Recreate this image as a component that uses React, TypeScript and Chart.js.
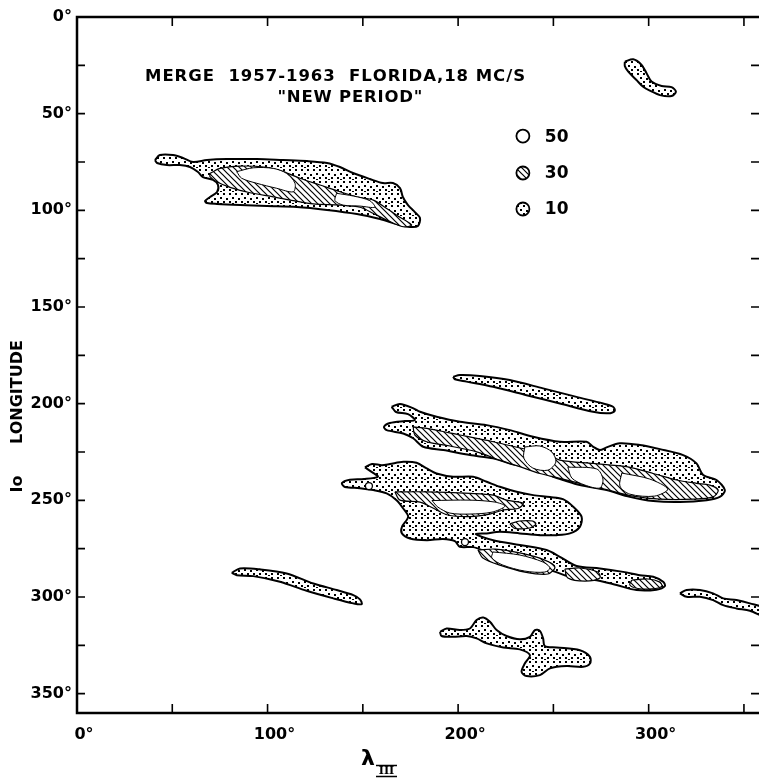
import React, { useEffect, useRef } from 'react';
import { Chart, registerables } from 'chart.js';

Chart.register(...registerables);

type P = [number, number];

// ---------- axis ----------
const X_MIN = 0;
const X_MAX = 360;
const Y_MIN = 0;
const Y_MAX = 360;
const xTickMarks = [50, 100, 150, 200, 250, 300, 350];
const yTickMarks = [25, 50, 75, 100, 125, 150, 175, 200, 225, 250, 275, 300, 325, 350];
const xLabelValues = [0, 100, 200, 300];
const yLabelValues = [0, 50, 100, 150, 200, 250, 300, 350];

// ---------- level 10 contours (stippled) ----------
const region1Outer: P[] = [
  [40.9, 74.0], [43.5, 71.4], [50.4, 71.4], [55.6, 72.9], [60.9, 75.0], [68.2, 74.0], [78.7, 73.5],
  [94.4, 73.5], [108.1, 74.0], [120.7, 74.5], [131.2, 75.5], [138.0, 77.6], [144.8, 80.7],
  [153.7, 83.8], [160.5, 85.9], [165.8, 85.9], [169.5, 88.5], [171.0, 93.1], [173.7, 97.3],
  [177.3, 100.9], [180.0, 104.0], [178.9, 108.1], [174.7, 108.6], [167.9, 107.1], [159.0, 104.5],
  [146.9, 101.9], [131.2, 99.8], [115.4, 98.3], [99.7, 97.8], [85.5, 97.3], [73.5, 96.7],
  [68.2, 96.2], [67.2, 95.2], [69.8, 93.1], [73.5, 90.5], [74.0, 86.9], [71.4, 84.3], [66.1, 82.8],
  [63.5, 80.2], [59.3, 77.6], [54.0, 76.6], [47.2, 76.6], [42.0, 75.5],
];
const region2Outer: P[] = [
  [287.5, 23.1], [291.9, 21.9], [296.3, 24.8], [298.9, 29.1], [301.5, 33.4], [306.8, 35.7],
  [312.0, 36.3], [314.3, 38.6], [312.0, 40.9], [305.9, 40.4], [300.6, 38.1], [297.1, 36.1],
  [293.6, 32.6], [289.3, 28.3], [287.5, 25.4],
];
const region3Outer: P[] = [
  [197.4, 186.1], [200.9, 185.2], [211.4, 185.7], [227.1, 187.8], [244.6, 192.1], [262.1, 196.5],
  [276.1, 199.9], [281.3, 201.6], [282.2, 203.7], [278.7, 205.0], [270.8, 204.2], [253.4, 199.9],
  [235.9, 195.6], [218.4, 191.3], [204.4, 188.6], [198.3, 187.4],
];
const region4Outer: P[] = [
  [165.1, 201.6], [169.5, 200.2], [176.3, 202.3], [180.0, 204.2], [188.7, 206.8], [200.9, 209.4],
  [215.0, 211.1], [227.2, 213.7], [239.4, 217.1], [253.4, 219.7], [267.4, 219.7], [270.9, 222.3],
  [274.4, 224.0], [277.9, 222.6], [284.9, 220.5], [295.4, 221.4], [305.9, 223.5], [318.1, 226.6],
  [325.1, 230.9], [328.6, 236.9], [335.6, 239.5], [340.0, 244.7], [337.3, 248.2], [330.4, 249.9],
  [316.4, 250.9], [302.4, 250.4], [290.1, 248.2], [277.9, 244.7], [263.9, 242.1], [255.1, 239.5],
  [249.9, 237.8], [239.4, 233.5], [227.2, 230.9], [218.4, 228.3], [206.2, 226.6], [192.2, 224.0],
  [181.7, 222.3], [176.4, 217.9], [171.2, 215.4], [162.5, 213.7], [161.1, 212.0], [164.2, 210.0],
  [172.1, 209.0], [177.3, 208.5], [173.7, 205.4], [167.4, 204.3],
];
const region56Outer: P[] = [
  [151.1, 233.0], [154.8, 231.2], [160.0, 231.8], [164.2, 231.2], [171.2, 230.1], [178.2, 230.6],
  [183.5, 233.5], [188.7, 236.1], [197.4, 237.8], [207.9, 237.8], [215.0, 240.4], [221.9, 243.0],
  [230.7, 245.6], [239.4, 247.3], [248.2, 248.3], [255.0, 249.4], [260.4, 253.3], [264.8, 258.5],
  [263.9, 263.7], [258.7, 267.1], [251.7, 268.0], [242.9, 268.0], [232.4, 267.1], [221.9, 266.3],
  [215.0, 267.1], [209.3, 267.5], [218.4, 270.6], [232.4, 273.1], [246.4, 275.7], [253.4, 279.2],
  [262.2, 284.0], [274.4, 285.2], [286.6, 287.0], [295.4, 288.7], [302.4, 289.5], [307.6, 292.1],
  [308.5, 294.4], [304.1, 296.2], [293.6, 296.4], [283.2, 293.8], [272.7, 291.3], [260.4, 290.2],
  [249.9, 286.6], [235.9, 282.6], [225.4, 280.0], [215.0, 276.6], [207.9, 274.2], [200.9, 274.0],
  [198.3, 271.1], [192.0, 270.0], [183.6, 270.6], [174.7, 269.7], [170.5, 267.1], [170.5, 263.8],
  [173.8, 258.5], [171.2, 254.2], [167.7, 249.9], [162.5, 246.4], [155.5, 244.7], [148.5, 243.7],
  [140.6, 243.1], [139.0, 241.1], [143.2, 239.3], [150.6, 239.0], [157.9, 237.8], [154.8, 235.4],
];
const region7Outer: P[] = [
  [81.2, 287.5], [85.5, 285.2], [96.0, 285.7], [110.0, 287.8], [124.0, 293.0], [136.3, 296.4],
  [145.0, 299.0], [148.5, 301.2], [149.4, 303.7], [145.0, 303.3], [134.5, 300.7], [120.5, 296.8],
  [106.5, 292.1], [92.5, 289.2], [83.8, 288.7],
];
const region8Outer: P[] = [
  [316.4, 298.1], [319.9, 296.4], [326.9, 296.4], [333.8, 298.1], [339.1, 300.7], [346.1, 301.6],
  [353.1, 303.3], [362.0, 306.3], [362.0, 310.4], [353.1, 307.1], [346.1, 305.9], [339.1, 304.2],
  [333.8, 301.6], [326.9, 299.9], [319.9, 299.9],
];
const region9Outer: P[] = [
  [190.5, 318.0], [194.0, 316.3], [200.9, 317.1], [206.2, 316.3], [209.7, 311.9], [213.2, 310.6],
  [216.7, 312.8], [220.2, 317.1], [225.4, 320.2], [232.4, 321.9], [237.7, 320.6], [240.3, 317.1],
  [242.9, 317.5], [244.6, 321.4], [245.5, 325.4], [251.7, 326.1], [263.9, 327.5], [269.2, 330.9],
  [269.2, 334.4], [265.6, 336.1], [256.9, 335.7], [248.2, 336.9], [242.9, 340.4], [235.9, 340.9],
  [233.3, 338.7], [235.0, 334.4], [237.7, 330.1], [232.4, 327.1], [223.7, 326.1], [215.0, 324.0],
  [209.7, 321.4], [204.5, 320.2], [197.4, 320.6], [191.3, 320.2],
];

// ---------- level 30 contours (hatched) ----------
const hatch1: P[] = [
  [69.8, 80.9], [75.0, 78.3], [85.5, 77.1], [99.5, 77.8], [108.2, 80.0], [117.0, 83.4], [127.5, 86.9],
  [138.0, 90.4], [146.7, 93.0], [155.5, 94.7], [162.5, 99.0], [169.5, 103.6], [175.6, 107.6],
  [171.2, 108.5], [162.5, 105.0], [155.5, 101.6], [148.5, 98.4], [138.0, 97.3], [124.0, 96.7],
  [113.5, 95.0], [103.0, 93.0], [90.8, 90.9], [80.3, 88.1], [73.3, 85.2], [69.8, 82.6],
];
const hatch4: P[] = [
  [176.4, 212.0], [183.5, 212.8], [200.9, 216.2], [218.4, 219.7], [235.9, 223.6], [246.4, 225.7],
  [253.4, 229.2], [270.9, 230.9], [288.4, 232.6], [302.4, 236.1], [314.6, 239.5], [325.1, 241.2],
  [332.1, 242.1], [336.5, 244.7], [333.8, 248.2], [323.3, 249.4], [305.9, 249.4], [291.9, 247.8],
  [277.9, 244.5], [263.9, 241.2], [253.4, 238.6], [242.9, 236.1], [232.4, 232.6], [221.9, 229.2],
  [209.7, 224.9], [195.7, 221.9], [183.5, 219.7], [177.3, 216.2],
];
const hatch5: P[] = [
  [166.8, 245.6], [183.5, 245.6], [206.2, 246.4], [218.4, 247.3], [225.4, 249.9], [234.2, 251.6],
  [231.4, 254.2], [223.7, 255.0], [216.7, 257.1], [206.2, 258.4], [194.6, 257.6], [186.8, 254.0],
  [180.0, 250.9], [169.5, 249.9],
];
const hatch5b: P[] = [
  [227.2, 262.2], [232.4, 260.7], [239.2, 260.7], [240.8, 262.2], [237.6, 264.3], [229.7, 264.5],
];
const hatch6a: P[] = [
  [210.4, 275.7], [219.3, 275.2], [232.4, 277.2], [245.5, 280.9], [250.8, 284.5], [247.1, 288.1],
  [235.0, 287.1], [221.9, 283.5], [213.0, 279.8],
];
const hatch6b: P[] = [
  [256.0, 285.6], [263.9, 285.0], [273.3, 287.1], [274.4, 290.2], [266.5, 291.8], [257.6, 290.2],
];
const hatch6c: P[] = [
  [291.2, 291.2], [299.6, 290.7], [305.9, 292.3], [306.9, 294.5], [301.7, 295.8], [294.4, 295.6],
  [290.1, 293.8],
];

// ---------- level 50 contours (clear) ----------
const clear1a: P[] = [
  [83.8, 80.0], [92.5, 78.0], [103.0, 78.3], [110.0, 80.9], [114.4, 86.0], [113.5, 90.4],
  [104.8, 88.6], [94.3, 86.0], [86.4, 83.4],
];
const clear1b: P[] = [
  [136.2, 91.2], [145.0, 92.6], [153.7, 95.0], [156.3, 98.4], [148.5, 97.8], [139.7, 97.3],
  [135.4, 95.0],
];
const clear4a: P[] = [
  [235.0, 222.4], [242.9, 221.9], [249.2, 225.0], [251.3, 230.2], [247.1, 234.4], [239.2, 233.3],
  [234.5, 228.2],
];
const clear4b: P[] = [
  [257.6, 232.8], [272.8, 233.8], [276.0, 239.0], [274.4, 243.6], [266.5, 242.1], [259.7, 238.5],
];
const clear4c: P[] = [
  [285.9, 235.9], [300.6, 239.0], [310.0, 244.2], [303.2, 247.8], [290.1, 246.8], [284.9, 242.6],
];
const clear5: P[] = [
  [186.3, 250.1], [206.2, 249.9], [219.3, 250.9], [224.6, 253.0], [217.8, 256.1], [206.2, 257.1],
  [195.7, 256.6], [189.4, 253.5],
];
const clear6: P[] = [
  [218.3, 276.7], [232.4, 278.3], [244.5, 281.9], [248.2, 285.0], [245.5, 287.1], [235.0, 286.6],
  [223.5, 283.5], [217.7, 279.8],
];
// tiny closed contours
const smallLoops: P[] = [[153.2, 242.6], [203.6, 271.6]];

const level10 = [region1Outer, region2Outer, region3Outer, region4Outer, region56Outer, region7Outer, region8Outer, region9Outer];
const level30 = [hatch1, hatch4, hatch5, hatch5b, hatch6a, hatch6b, hatch6c];
const level50 = [clear1a, clear1b, clear4a, clear4b, clear4c, clear5, clear6];

// ---------- annotation text ----------
const titleLine1 = 'MERGE  1957-1963  FLORIDA,18 MC/S';
const titleLine2 = '"NEW PERIOD"';
const legendLevels = ['50', '30', '10'];
const yAxisTitleA = 'Io';
const yAxisTitleB = 'LONGITUDE';

const FONT = '"DejaVu Sans", sans-serif';

function makeStipple(): HTMLCanvasElement {
  const c = document.createElement('canvas');
  c.width = 12;
  c.height = 12;
  const g = c.getContext('2d')!;
  g.fillStyle = '#fff';
  g.fillRect(0, 0, 12, 12);
  g.fillStyle = '#000';
  const dots = [[1, 1], [7, 1], [4, 5], [10, 6], [1, 9], [7, 9], [4, 11]];
  for (const [x, y] of dots) {
    g.fillRect(x, y, 2, 2);
  }
  return c;
}

function makeHatch(): HTMLCanvasElement {
  const s = 6;
  const c = document.createElement('canvas');
  c.width = s;
  c.height = s;
  const g = c.getContext('2d')!;
  g.fillStyle = '#fff';
  g.fillRect(0, 0, s, s);
  g.strokeStyle = '#000';
  g.lineWidth = 1.2;
  g.beginPath();
  g.moveTo(-1, -1);
  g.lineTo(s + 1, s + 1);
  g.moveTo(-1, s - 1);
  g.lineTo(1, s + 1);
  g.moveTo(s - 1, -1);
  g.lineTo(s + 1, 1);
  g.stroke();
  return c;
}

const toXY = (pts: P[]) => [...pts, pts[0]].map(([x, y]) => ({ x, y }));

// draw text char by char so that it fills a given width
function spacedText(ctx: CanvasRenderingContext2D, text: string, cx: number, cy: number, width: number) {
  const chars = Array.from(text);
  const ws = chars.map((c) => ctx.measureText(c).width);
  const total = ws.reduce((a, b) => a + b, 0);
  const gap = chars.length > 1 ? Math.max(0, (width - total) / (chars.length - 1)) : 0;
  const w = total + gap * (chars.length - 1);
  let x = cx - w / 2;
  ctx.textAlign = 'left';
  chars.forEach((c, i) => {
    ctx.fillText(c, x, cy);
    x += ws[i] + gap;
  });
}

export default function App() {
  const ref = useRef<HTMLCanvasElement | null>(null);

  useEffect(() => {
    const canvas = ref.current;
    if (!canvas) return;
    const ctx0 = canvas.getContext('2d')!;
    const stipple = ctx0.createPattern(makeStipple(), 'repeat')!;
    const hatch = ctx0.createPattern(makeHatch(), 'repeat')!;

    Chart.defaults.font.family = FONT;

    const datasets: any[] = [];
    level10.forEach((pts) =>
      datasets.push({
        data: toXY(pts),
        borderColor: '#000',
        borderWidth: 2,
        backgroundColor: stipple,
        fill: 'shape',
        tension: 0.3,
        pointRadius: 0,
        order: 3,
      })
    );
    level30.forEach((pts) =>
      datasets.push({
        data: toXY(pts),
        borderColor: '#000',
        borderWidth: 1.2,
        backgroundColor: hatch,
        fill: 'shape',
        tension: 0.3,
        pointRadius: 0,
        order: 2,
      })
    );
    level50.forEach((pts) =>
      datasets.push({
        data: toXY(pts),
        borderColor: '#000',
        borderWidth: 1,
        backgroundColor: '#fff',
        fill: 'shape',
        tension: 0.3,
        pointRadius: 0,
        order: 1,
      })
    );
    datasets.push({
      data: smallLoops.map(([x, y]) => ({ x, y })),
      showLine: false,
      pointRadius: 3.5,
      pointBorderWidth: 1.3,
      pointBorderColor: '#000',
      pointBackgroundColor: '#fff',
      order: 0,
    });

    const decor = {
      id: 'decor',
      afterDraw(chart: any) {
        const { ctx, chartArea: a, scales } = chart;
        const xs = scales.x;
        const ys = scales.y;
        ctx.save();
        ctx.strokeStyle = '#000';
        ctx.fillStyle = '#000';
        // frame
        ctx.lineWidth = 2.5;
        ctx.strokeRect(a.left, a.top, a.right - a.left, a.bottom - a.top);
        // tick marks (inward)
        ctx.lineWidth = 1.6;
        ctx.beginPath();
        for (const v of xTickMarks) {
          const px = xs.getPixelForValue(v);
          ctx.moveTo(px, a.bottom);
          ctx.lineTo(px, a.bottom - 9);
          ctx.moveTo(px, a.top);
          ctx.lineTo(px, a.top + 9);
        }
        for (const v of yTickMarks) {
          const py = ys.getPixelForValue(v);
          ctx.moveTo(a.left, py);
          ctx.lineTo(a.left + 8, py);
          ctx.moveTo(a.right, py);
          ctx.lineTo(a.right - 12, py);
        }
        ctx.stroke();

        // title text
        ctx.font = `bold 16.5px ${FONT}`;
        ctx.textBaseline = 'middle';
        spacedText(ctx, titleLine1, xs.getPixelForValue(135.4), ys.getPixelForValue(31), 380);
        spacedText(ctx, titleLine2, xs.getPixelForValue(143.2), ys.getPixelForValue(42), 145);

        // legend
        const lx = xs.getPixelForValue(234);
        const lys = [61.6, 80.7, 99.3].map((v) => ys.getPixelForValue(v));
        const fills: any[] = ['#fff', hatch, stipple];
        lys.forEach((py, i) => {
          ctx.beginPath();
          ctx.arc(lx, py, 6.5, 0, Math.PI * 2);
          ctx.fillStyle = fills[i];
          ctx.fill();
          ctx.lineWidth = 1.8;
          ctx.stroke();
          ctx.fillStyle = '#000';
          ctx.font = `bold 17px ${FONT}`;
          ctx.textAlign = 'left';
          ctx.fillText(legendLevels[i], xs.getPixelForValue(245.5), py + 1);
        });

        // y axis title
        ctx.save();
        ctx.translate(18, 0);
        ctx.rotate(-Math.PI / 2);
        ctx.font = `bold 16px ${FONT}`;
        ctx.textAlign = 'center';
        ctx.textBaseline = 'middle';
        ctx.fillText(yAxisTitleB, -392, 0);
        ctx.fillText(yAxisTitleA, -484, 0);
        ctx.restore();

        // x axis title  lambda_III
        ctx.font = `bold 22px ${FONT}`;
        ctx.textAlign = 'center';
        ctx.textBaseline = 'middle';
        ctx.fillText('λ', 368, 759);
        ctx.font = `bold 11px "DejaVu Serif", serif`;
        ctx.fillText('III', 386.5, 771);
        ctx.lineWidth = 1.5;
        ctx.beginPath();
        ctx.moveTo(376, 765.5);
        ctx.lineTo(397, 765.5);
        ctx.moveTo(376, 776.5);
        ctx.lineTo(397, 776.5);
        ctx.stroke();
        ctx.restore();
      },
    };

    const chart = new Chart(canvas, {
      type: 'line',
      data: { datasets },
      options: {
        responsive: false,
        animation: false,
        events: [],
        layout: { padding: { top: 17, right: 17, left: 0, bottom: 0 } },
        plugins: { legend: { display: false }, tooltip: { enabled: false } },
        scales: {
          x: {
            type: 'linear',
            min: X_MIN,
            max: X_MAX,
            position: 'bottom',
            grid: { display: false, drawTicks: false },
            border: { display: false },
            ticks: {
              stepSize: 50,
              autoSkip: false,
              maxRotation: 0,
              padding: 12,
              labelOffset: 7,
              color: '#000',
              font: { size: 16, family: FONT, weight: 'bold' },
              callback: (v: any) => (xLabelValues.includes(Number(v)) ? `${v}°` : ''),
            },
            afterFit: (s: any) => {
              s.height = 67;
            },
          },
          y: {
            type: 'linear',
            min: Y_MIN,
            max: Y_MAX,
            reverse: true,
            grid: { display: false, drawTicks: false },
            border: { display: false },
            ticks: {
              stepSize: 25,
              autoSkip: false,
              padding: 5,
              color: '#000',
              font: { size: 16, family: FONT, weight: 'bold' },
              callback: (v: any) => (yLabelValues.includes(Number(v)) ? `${v}°` : ''),
            },
            afterFit: (s: any) => {
              s.width = 77;
            },
          },
        },
      } as any,
      plugins: [decor],
    });

    return () => chart.destroy();
  }, []);

  return (
    <div
      style={{
        position: 'fixed',
        left: 0,
        top: 0,
        width: 759,
        height: 780,
        overflow: 'hidden',
        background: '#fff',
      }}
    >
      <canvas ref={ref} width={780} height={780} style={{ display: 'block' }} />
    </div>
  );
}
